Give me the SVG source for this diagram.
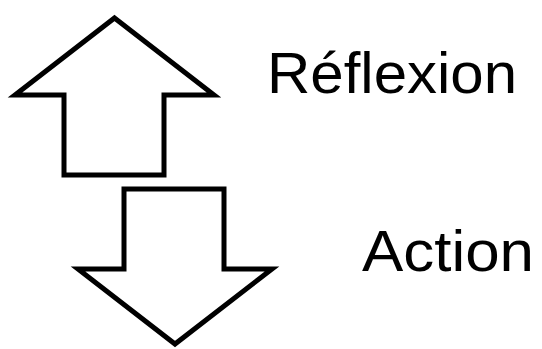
<svg xmlns="http://www.w3.org/2000/svg" width="542" height="349" viewBox="0 0 542 349">
<style>
.arr{fill:#fff;stroke:#000;stroke-width:5;stroke-linejoin:miter;stroke-miterlimit:10}
.lbl{font-family:"Liberation Sans",Arial,sans-serif;fill:#000;font-size:57px}
</style>
<rect width="542" height="349" fill="#fff"/>
<g id="up-arrow">
<polygon class="arr" points="114.5,18 214,95 164,95 164,175 64,175 64,95 15,95"/>
</g>
<g id="down-arrow">
<polygon class="arr" points="124,189 224,189 224,269 272,269 175,344 78,269 124,269"/>
</g>
<g id="label-reflexion">
<text class="lbl" x="267" y="93" textLength="250" lengthAdjust="spacingAndGlyphs">Réflexion</text>
</g>
<g id="label-action">
<text class="lbl" x="362" y="271" textLength="172" lengthAdjust="spacingAndGlyphs">Action</text>
</g>
<g id="connectors"></g>
</svg>
